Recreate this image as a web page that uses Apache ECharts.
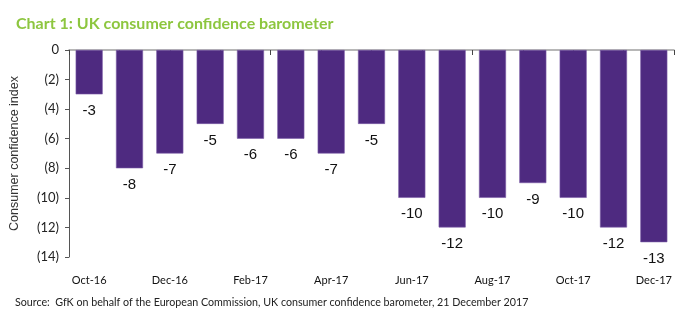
<!DOCTYPE html>
<html>
<head>
<meta charset="utf-8">
<script src="https://cdn.jsdelivr.net/npm/echarts@6/dist/echarts.min.js"></script>
<style>
html, body { margin: 0; padding: 0; background: #fff; }
#chart { width: 700px; height: 330px; }
</style>
</head>
<body>
<div id="chart"></div>
<script>
// Monthly readings of the GfK UK consumer confidence index
const months = ['Oct-16', 'Nov-16', 'Dec-16', 'Jan-17', 'Feb-17', 'Mar-17', 'Apr-17', 'May-17',
                'Jun-17', 'Jul-17', 'Aug-17', 'Sep-17', 'Oct-17', 'Nov-17', 'Dec-17'];
const confidence = [-3, -8, -7, -5, -6, -6, -7, -5, -10, -12, -10, -9, -10, -12, -13];
const yTicks = [0, -2, -4, -6, -8, -10, -12, -14];

const chart = echarts.init(document.getElementById('chart'), null, { renderer: 'canvas' });

chart.setOption({
  animation: false,
  backgroundColor: '#ffffff',
  title: {
    text: 'Chart 1: UK consumer confidence barometer',
    left: 11,
    top: 11,
    textStyle: { color: '#8dc63f', fontSize: 16, fontWeight: 'bold', fontFamily: 'Lato' }
  },
  graphic: [{
    type: 'text',
    left: 15,
    top: 297,
    style: {
      text: 'Source:  GfK on behalf of the European Commission, UK consumer confidence barometer, 21 December 2017',
      fill: '#222', fontSize: 10.7, fontFamily: 'Lato'
    }
  }],
  grid: { left: 69, right: 26, top: 50, bottom: 73, containLabel: false },
  xAxis: [{
    // baseline drawn along zero at the top of the plot
    type: 'category',
    data: months,
    position: 'top',
    axisLine: { show: true, lineStyle: { color: '#a0a0a0', width: 1.5 } },
    axisTick: { show: false },
    axisLabel: { show: false }
  }, {
    // month labels beneath the plot
    type: 'category',
    data: months,
    position: 'bottom',
    axisLine: { show: false },
    axisTick: { show: false },
    axisLabel: {
      interval: 1, margin: 18, color: '#111', fontSize: 11, fontFamily: 'Lato'
    }
  }, {
    // short tick marks hanging from the baseline
    type: 'value',
    position: 'top',
    min: 0,
    max: 12,
    interval: 1,
    axisLine: { show: false },
    axisTick: { show: true, inside: true, length: 5, lineStyle: { color: '#444', width: 1 } },
    axisLabel: { show: false },
    splitLine: { show: false }
  }],
  yAxis: {
    type: 'value',
    min: -14,
    max: 0,
    interval: 2,
    name: 'Consumer confidence index',
    nameLocation: 'middle',
    nameGap: 48,
    nameTextStyle: { color: '#333', fontSize: 12.5, fontFamily: 'Liberation Sans' },
    axisLine: { show: true, lineStyle: { color: '#555', width: 1 } },
    axisTick: { show: true, length: 4, lineStyle: { color: '#555' } },
    splitLine: { show: false },
    axisLabel: {
      color: '#222', fontSize: 13, fontFamily: 'Lato', margin: 10,
      formatter: v => (yTicks.includes(v) && v !== 0) ? '(' + Math.abs(v) + ')' : String(v)
    }
  },
  series: [{
    type: 'bar',
    data: confidence,
    xAxisIndex: 0,
    barCategoryGap: '33%',
    itemStyle: { color: '#4e2a80', borderColor: '#7a5aa6', borderWidth: 0.6 },
    label: {
      show: true,
      position: 'bottom',
      distance: 9,
      color: '#111',
      fontSize: 15,
      fontFamily: 'Liberation Sans'
    }
  }]
});
</script>
</body>
</html>
